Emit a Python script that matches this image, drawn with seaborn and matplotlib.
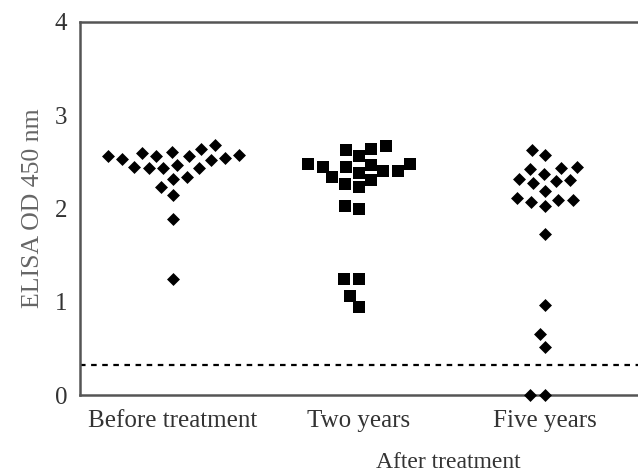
import numpy as np
import pandas as pd
import matplotlib
matplotlib.use("Agg")
import matplotlib.pyplot as plt
from matplotlib.markers import MarkerStyle
from matplotlib.transforms import Affine2D
import seaborn as sns

categories = ["Before treatment", "Two years", "Five years"]
before = [2.68, 2.57, 2.45, 2.56, 2.43, 2.54, 2.61, 2.52, 2.59, 2.53, 2.43,
          2.64, 2.56, 2.43, 2.56, 2.47, 2.34, 2.32, 2.23, 2.14, 1.89, 1.24]
two_years = [2.63, 2.40, 2.48, 2.34, 2.67, 2.47, 2.26, 2.64, 2.44, 2.23, 2.45,
             2.31, 2.48, 2.38, 2.56, 2.40, 1.99, 2.03, 1.24, 1.24, 1.06, 0.94]
five_years = [2.42, 2.32, 2.29, 2.27, 2.31, 2.37, 2.43, 2.44, 2.57, 2.63, 2.11,
              2.09, 2.03, 2.07, 2.09, 2.19, 1.73, 0.97, 0.65, 0.51, 0.0, 0.0]
cutoff = 0.32
yticks = [0, 1, 2, 3, 4]

df = pd.DataFrame({
    "group": [categories[0]] * len(before) + [categories[1]] * len(two_years)
             + [categories[2]] * len(five_years),
    "od": before + two_years + five_years,
})

sns.set_style("white")
plt.rcParams["font.family"] = ["Liberation Serif", "DejaVu Serif"]

fig = plt.figure(figsize=(6.38, 4.76), dpi=100)
ax = fig.add_axes([80 / 638, 1 - 395 / 476, 1 - 80 / 638, (395 - 22) / 476])

diamond = MarkerStyle("D", transform=Affine2D().scale(0.66))
square = MarkerStyle("s", transform=Affine2D().scale(0.8))

diam = df[df["group"] != categories[1]]
sq = df[df["group"] == categories[1]]
sns.swarmplot(data=diam, x="group", y="od", order=categories, marker=diamond,
              color="black", size=10, linewidth=0, ax=ax, clip_on=False)
sns.swarmplot(data=sq, x="group", y="od", order=categories, marker=square,
              color="black", size=10, linewidth=0, ax=ax, clip_on=False)

ax.axhline(cutoff, color="black", linestyle=(0, (2.5, 2.5)), linewidth=1.6)

ax.set_xlim(-0.5, 2.5)
ax.set_ylim(0, 4)
ax.set_yticks(yticks)
ax.set_yticklabels([str(t) for t in yticks])
ax.set_xlabel("")
ax.set_ylabel("ELISA OD 450 nm", fontsize=18.5, color="#666666", labelpad=8)

for side in ["left", "bottom", "top"]:
    ax.spines[side].set_visible(True)
    ax.spines[side].set_color("#555555")
    ax.spines[side].set_linewidth(1.8)
ax.spines["right"].set_visible(False)

ax.tick_params(axis="both", direction="out", length=5, width=1.5,
               color="#555555", labelcolor="#333333", labelsize=18)
ax.tick_params(axis="x", pad=6)
ax.tick_params(axis="y", pad=4)

fig.text(448 / 638, 1 - 462 / 476, "After treatment", ha="center",
         va="center", fontsize=17, color="#333333")

fig.savefig("out.png", dpi=100)
